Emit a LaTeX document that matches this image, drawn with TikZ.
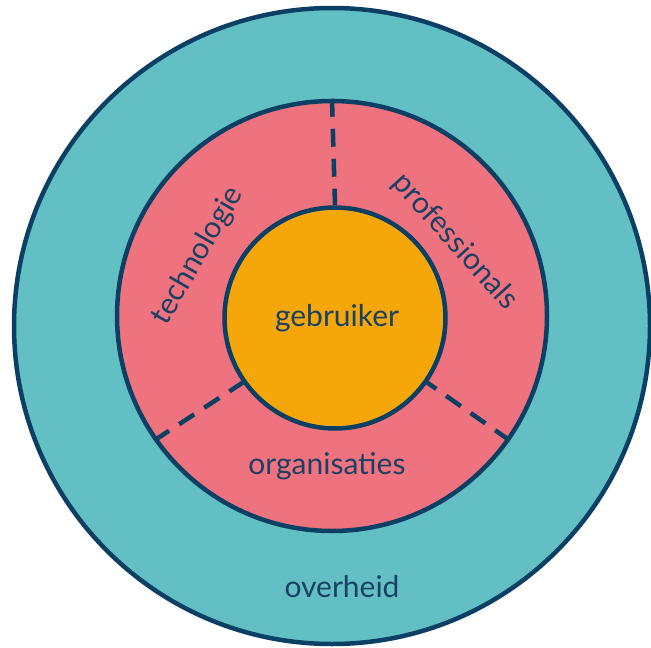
\documentclass[tikz,border=0pt]{standalone}
\usepackage{fontspec}
\setmainfont{Lato}
\definecolor{navy}{HTML}{0B3F63}
\definecolor{ringteal}{HTML}{62BFC4}
\definecolor{ringpink}{HTML}{EF727F}
\definecolor{ringorange}{HTML}{F5A70A}
\definecolor{labelnavy}{HTML}{1A4064}
\begin{document}
\begin{tikzpicture}[x=1pt,y=-1pt,
  ring/.style={circle, draw=navy, line width=4.5pt, inner sep=0pt},
  sep/.style={draw=navy, line width=4.5pt, dash pattern=on 18pt off 12pt},
  lbl/.style={text=labelnavy, font=\fontsize{30}{34}\selectfont, inner sep=0pt}]
\useasboundingbox (0,0) rectangle (651,648);
\node[ring, fill=ringteal, minimum size=636pt] (outer) at (332,326) {};
\node[ring, fill=ringpink, minimum size=430pt] (middle) at (332,316) {};
\node[ring, fill=ringorange, minimum size=221pt] (inner) at (335,318) {};
\draw[sep] (middle.90) -- (inner.90);
\draw[sep] (middle.215) -- (inner.215);
\draw[sep] (middle.325) -- (inner.325);
\node[lbl] (gebr) at (337,318) {gebruiker};
\node[lbl, rotate=60] (tech) at (198,256) {technologie};
\node[lbl, rotate=-48] (prof) at (455,242) {professionals};
\node[lbl] (org) at (327,466) {organisaties};
\node[lbl] (over) at (342,587) {overheid};
\end{tikzpicture}
\end{document}
